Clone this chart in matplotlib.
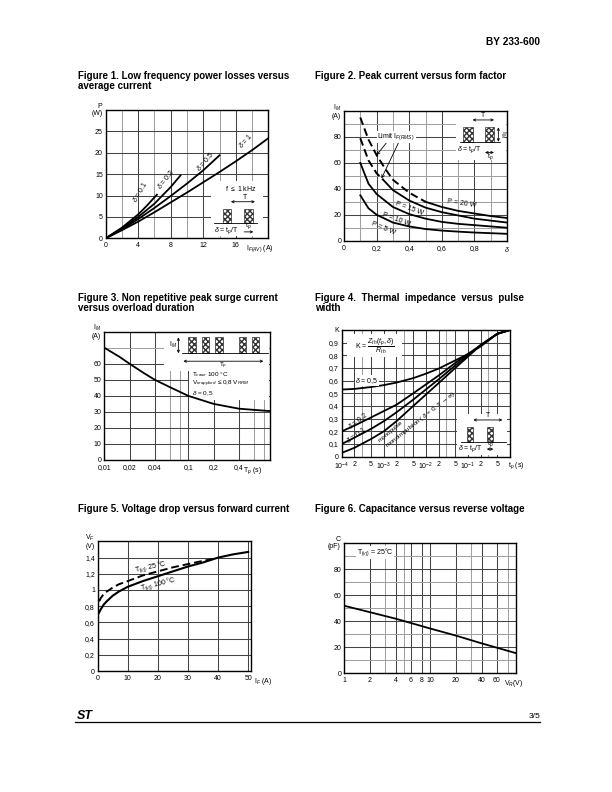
import numpy as np
import matplotlib
matplotlib.use("Agg")
import matplotlib.pyplot as plt
from matplotlib.patches import Rectangle
from matplotlib.ticker import FixedLocator, FixedFormatter, NullFormatter

plt.rcParams['font.family'] = ['Liberation Sans', 'DejaVu Sans']
plt.rcParams['mathtext.fontset'] = 'custom'
plt.rcParams['mathtext.rm'] = 'Liberation Sans'
plt.rcParams['mathtext.it'] = 'Liberation Sans:italic'
plt.rcParams['mathtext.bf'] = 'Liberation Sans:bold'

# fig 1 : power losses vs average current
i_av = [0, 2, 4, 6, 8, 10, 12, 14, 16, 18, 20]
p_d1 = [0, 1.9, 3.9, 6.1, 8.4, 10.7, 13.1, 15.5, 18.0, 20.6, 23.4]
i_d05 = [0, 2, 4, 6, 8, 10, 12, 14]
p_d05 = [0, 2.1, 4.5, 7.1, 9.9, 12.8, 15.9, 19.4]
i_d02 = [0, 2, 4, 6, 8, 9.2]
p_d02 = [0, 2.3, 5.0, 8.1, 12.0, 14.7]
i_d01 = [0, 2, 4, 5, 6.3]
p_d01 = [0, 2.5, 5.6, 7.5, 10.2]

# fig 2 : peak current vs form factor
ff = [0.1, 0.15, 0.2, 0.3, 0.4, 0.5, 0.6, 0.7, 0.8, 0.9, 1.0]
im_5w = [35, 25, 20, 14, 11, 9, 7.8, 7, 6.3, 5.8, 5.3]
im_10w = [60, 44, 36, 26, 20.5, 17, 14.5, 13, 12, 11, 10]
ff_15w = [0.24, 0.3, 0.4, 0.5, 0.6, 0.7, 0.8, 0.9, 1.0]
im_15w = [47, 39, 31, 25.5, 22, 19.5, 17, 15.5, 14]
ff_lim15 = [0.1, 0.15, 0.2, 0.24]
im_lim15 = [79, 62, 52, 47]
ff_20w = [0.5, 0.6, 0.7, 0.8, 0.9, 1.0]
im_20w = [30, 26, 23, 21, 19, 17.5]
ff_lim20 = [0.1, 0.15, 0.2, 0.25, 0.3, 0.4, 0.5]
im_lim20 = [95, 78, 66, 56, 47, 37, 30]

# fig 3 : surge current vs overload duration
tp3 = [0.01, 0.015, 0.02, 0.03, 0.04, 0.06, 0.1, 0.2, 0.4, 0.7, 0.94]
ism = [70, 64.5, 60, 54, 50, 45.5, 40, 35, 32, 31, 30.5]

# fig 4 : thermal impedance
tp4 = [1e-4, 2e-4, 5e-4, 1e-3, 2e-3, 5e-3, 1e-2, 2e-2, 5e-2, 1e-1, 2e-1, 5e-1, 1]
k_05 = [0.53, 0.535, 0.55, 0.565, 0.585, 0.62, 0.655, 0.695, 0.76, 0.81, 0.87, 0.97, 1.0]
k_02 = [0.2, 0.245, 0.31, 0.36, 0.41, 0.5, 0.57, 0.64, 0.74, 0.81, 0.88, 0.97, 1.0]
k_01 = [0.1, 0.15, 0.22, 0.28, 0.35, 0.45, 0.53, 0.61, 0.72, 0.8, 0.88, 0.97, 1.0]
k_00 = [0.03, 0.07, 0.14, 0.2, 0.28, 0.4, 0.49, 0.58, 0.7, 0.79, 0.88, 0.97, 1.0]

# fig 5 : forward voltage
if_100 = [0, 1, 2, 3, 5, 7, 10, 15, 20, 25, 30, 35, 40, 45, 50]
vf_100 = [0.69, 0.76, 0.82, 0.86, 0.93, 0.98, 1.04, 1.11, 1.17, 1.23, 1.29, 1.34, 1.40, 1.44, 1.47]
if_25 = [0.5, 1, 2, 3, 5, 7, 10, 15, 20, 25, 30, 35, 38]
vf_25 = [0.86, 0.9, 0.95, 0.98, 1.03, 1.07, 1.11, 1.18, 1.23, 1.28, 1.32, 1.36, 1.38]

# fig 6 : capacitance
vr = [1, 2, 4, 10, 20, 40, 100]
cap = [52, 47, 42, 34.5, 29, 23, 15.5]

fig = plt.figure(figsize=(6.12, 7.92), dpi=100)
fs = 5


def px_axes(l, t, r, b):
    return fig.add_axes([l / 612, 1 - b / 792, (r - l) / 612, (b - t) / 792])


def style(ax, xmaj, xmin, ymaj, ymin, xlab, ylab):
    ax.xaxis.set_major_locator(FixedLocator(xmaj))
    ax.xaxis.set_major_formatter(FixedFormatter(xlab))
    ax.xaxis.set_minor_locator(FixedLocator(xmin))
    ax.xaxis.set_minor_formatter(NullFormatter())
    ax.yaxis.set_major_locator(FixedLocator(ymaj))
    ax.yaxis.set_major_formatter(FixedFormatter(ylab))
    ax.yaxis.set_minor_locator(FixedLocator(ymin))
    ax.yaxis.set_minor_formatter(NullFormatter())
    ax.tick_params(which='both', length=0, labelsize=fs, pad=2)
    ax.tick_params(axis='x', pad=3)
    ax.grid(which='major', color='#444444', lw=0.75)
    ax.grid(which='minor', color='#a0a0a0', lw=0.75)
    ax.set_axisbelow(True)
    for s in ax.spines.values():
        s.set_linewidth(1.0)


def white(ax, x0, y0, x1, y1):
    ax.add_patch(Rectangle((x0, y0), x1 - x0, y1 - y0, transform=ax.transAxes,
                           facecolor='white', edgecolor='none', zorder=1))


def pulse(ax, x, w, y0, y1):
    ax.add_patch(Rectangle((x, y0), w, y1 - y0, transform=ax.transAxes,
                           facecolor='white', edgecolor='#333333', hatch='xxxxxx',
                           lw=0.5, zorder=3))


def arrow(ax, p0, p1, style='<->'):
    ax.annotate('', xy=p1, xytext=p0, xycoords='axes fraction',
                arrowprops=dict(arrowstyle=style, lw=0.6, color='black',
                                shrinkA=0, shrinkB=0, mutation_scale=4))


def hline(ax, x0, x1, y):
    ax.plot([x0, x1], [y, y], transform=ax.transAxes, color='black', lw=0.6, zorder=3)


def atext(ax, x, y, s, **kw):
    kw.setdefault('fontsize', fs)
    ax.text(x, y, s, transform=ax.transAxes, zorder=4, **kw)


# ---------- Figure 1
ax1 = px_axes(105.7, 110, 268.3, 238.3)
ax1.set_xlim(0, 20)
ax1.set_ylim(0, 30)
style(ax1, [0, 4, 8, 12, 16], [2, 6, 10, 14, 18], [0, 5, 10, 15, 20, 25], [],
      ['0', '4', '8', '12', '16'], ['0', '5', '10', '15', '20', '25'])
white(ax1, 0.65, 0.02, 0.97, 0.45)
ax1.plot(i_av, p_d1, color='black', lw=1.3, zorder=2)
ax1.plot(i_d05, p_d05, color='black', lw=1.3, zorder=2)
ax1.plot(i_d02, p_d02, color='black', lw=1.3, zorder=2)
ax1.plot(i_d01, p_d01, color='black', lw=1.3, zorder=2)
ax1.text(4.2, 10.8, r'$\delta$ = 0.1', fontsize=fs, rotation=60, ha='center', va='center')
ax1.text(7.4, 13.8, r'$\delta$ = 0.2', fontsize=fs, rotation=52, ha='center', va='center')
ax1.text(12.2, 18.0, r'$\delta$ = 0.5', fontsize=fs, rotation=50, ha='center', va='center')
ax1.text(17.2, 22.8, r'$\delta$ = 1', fontsize=fs, rotation=48, ha='center', va='center')
atext(ax1, 0.83, 0.39, r'f $\leq$ 1 kHz', ha='center', va='center')
pulse(ax1, 0.72, 0.05, 0.117, 0.228)
pulse(ax1, 0.852, 0.056, 0.117, 0.228)
hline(ax1, 0.668, 0.93, 0.117)
arrow(ax1, (0.77, 0.285), (0.918, 0.285))
atext(ax1, 0.857, 0.32, 'T', ha='center', va='center')
atext(ax1, 0.745, 0.06, r'$\delta$ = t$_p$/T', ha='center', va='center')
arrow(ax1, (0.852, 0.05), (0.908, 0.05), '->')
atext(ax1, 0.88, 0.10, r't$_p$', ha='center', va='center')
atext(ax1, -0.02, 1.0, 'P\n(W)', ha='right', va='center', linespacing=1.0)
atext(ax1, 0.86, -0.08, r'I$_{F(AV)}$ (A)', ha='left', va='center')

# ---------- Figure 2
ax2 = px_axes(344, 111, 507, 240.7)
ax2.set_xlim(0, 1)
ax2.set_ylim(0, 100)
style(ax2, [0, 0.2, 0.4, 0.6, 0.8, 1.0], [0.1, 0.3, 0.5, 0.7, 0.9],
      [0, 20, 40, 60, 80], [10, 30, 50, 70, 90],
      ['0', '0,2', '0,4', '0,6', '0,8', r'$\delta$'], ['0', '20', '40', '60', '80'])
white(ax2, 0.69, 0.62, 0.995, 0.995)
ax2.plot(ff, im_5w, color='black', lw=1.3, zorder=2)
ax2.plot(ff, im_10w, color='black', lw=1.3, zorder=2)
ax2.plot(ff_15w, im_15w, color='black', lw=1.3, zorder=2)
ax2.plot(ff_20w, im_20w, color='black', lw=1.3, zorder=2)
ax2.plot(ff_lim15, im_lim15, color='black', lw=1.4, ls=(0, (4, 2)), zorder=2)
ax2.plot(ff_lim20, im_lim20, color='black', lw=1.4, ls=(0, (4, 2)), zorder=2)
ax2.text(0.32, 80, r'Limit I$_{F(RMS)}$', fontsize=fs, ha='center', va='center',
         bbox=dict(facecolor='white', edgecolor='none', pad=0.5), zorder=4)
ax2.annotate('', xy=(0.2, 66), xytext=(0.27, 77),
             arrowprops=dict(arrowstyle='->', lw=0.6, shrinkA=0, shrinkB=0, mutation_scale=5))
ax2.annotate('', xy=(0.23, 48), xytext=(0.34, 77),
             arrowprops=dict(arrowstyle='->', lw=0.6, shrinkA=0, shrinkB=0, mutation_scale=5))
ax2.text(0.72, 28.5, 'P = 20 W', fontsize=fs, rotation=-8, ha='center', va='center')
ax2.text(0.4, 24.5, 'P = 15 W', fontsize=fs, rotation=-20, ha='center', va='center')
ax2.text(0.32, 16.5, 'P = 10 W', fontsize=fs, rotation=-20, ha='center', va='center')
ax2.text(0.24, 9.5, 'P = 5 W', fontsize=fs, rotation=-22, ha='center', va='center')
pulse(ax2, 0.732, 0.057, 0.763, 0.874)
pulse(ax2, 0.865, 0.055, 0.763, 0.874)
hline(ax2, 0.712, 0.957, 0.763)
arrow(ax2, (0.789, 0.931), (0.92, 0.931))
atext(ax2, 0.855, 0.965, 'T', ha='center', va='center')
arrow(ax2, (0.947, 0.763), (0.947, 0.874))
atext(ax2, 0.975, 0.82, r'I$_M$', ha='center', va='center', rotation=-90)
atext(ax2, 0.77, 0.70, r'$\delta$ = t$_p$/T', ha='center', va='center')
arrow(ax2, (0.865, 0.68), (0.92, 0.68))
atext(ax2, 0.895, 0.645, r't$_p$', ha='center', va='center')
atext(ax2, -0.02, 1.0, 'I$_M$\n(A)', ha='right', va='center', linespacing=1.0)

# ---------- Figure 3
ax3 = px_axes(104.3, 331.7, 270, 460)
ax3.set_xscale('log')
ax3.set_xlim(0.01, 0.94)
ax3.set_ylim(0, 80)
style(ax3, [0.01, 0.02, 0.04, 0.1, 0.2, 0.4], [0.06, 0.08, 0.6, 0.8],
      [0, 10, 20, 30, 40, 50, 60], [70],
      ['0,01', '0,02', '0,04', '0,1', '0,2', '0,4'],
      ['0', '10', '20', '30', '40', '50', '60'])
white(ax3, 0.362, 0.69, 0.995, 0.995)
white(ax3, 0.51, 0.47, 0.995, 0.69)
ax3.plot(tp3, ism, color='black', lw=1.3, zorder=2)
for x0 in [0.507, 0.588, 0.668, 0.81, 0.89]:
    pulse(ax3, x0, 0.046, 0.832, 0.956)
hline(ax3, 0.47, 0.99, 0.832)
arrow(ax3, (0.447, 0.832), (0.447, 0.956))
atext(ax3, 0.415, 0.9, r'I$_M$', ha='center', va='center')
arrow(ax3, (0.477, 0.77), (0.96, 0.77))
atext(ax3, 0.718, 0.73, r'T$_p$', ha='center', va='center', fontsize=4.6)
atext(ax3, 0.53, 0.665, r'T$_{case}$ 100 °C', ha='left', va='center', fontsize=4.6)
atext(ax3, 0.53, 0.59, r'V$_{reapplied}$ $\leq$0,8 V$_{RRM}$', ha='left', va='center',
      fontsize=4.6)
atext(ax3, 0.53, 0.515, r'$\delta$ = 0,5', ha='left', va='center', fontsize=4.6)
atext(ax3, -0.02, 1.0, 'I$_M$\n(A)', ha='right', va='center', linespacing=1.0)
atext(ax3, 0.84, -0.08, r'T$_p$ (s)', ha='left', va='center')

# ---------- Figure 4
ax4 = px_axes(341.7, 330, 510, 456.7)
ax4.set_xscale('log')
ax4.set_xlim(1e-4, 1)
ax4.set_ylim(0, 1.0)
xmaj4 = [1e-4, 2e-4, 5e-4, 1e-3, 2e-3, 5e-3, 1e-2, 2e-2, 5e-2, 1e-1, 2e-1, 5e-1]
xmin4 = [3e-4, 3e-3, 3e-2, 3e-1]
style(ax4, xmaj4, xmin4, [0.0, 0.1, 0.2, 0.3, 0.4, 0.5, 0.6, 0.7, 0.8, 0.9, 1.0], [],
      [r'10$^{-4}$', '2', '5', r'10$^{-3}$', '2', '5', r'10$^{-2}$', '2', '5',
       r'10$^{-1}$', '2', '5'],
      ['0', '0,1', '0,2', '0,3', '0,4', '0,5', '0,6', '0,7', '0,8', '0,9', 'K'])
white(ax4, 0.03, 0.79, 0.356, 0.965)
white(ax4, 0.683, 0.013, 0.98, 0.34)
ax4.plot(tp4, k_05, color='black', lw=1.3, zorder=2)
ax4.plot(tp4, k_02, color='black', lw=1.3, zorder=2)
ax4.plot(tp4, k_01, color='black', lw=1.3, zorder=2)
ax4.plot(tp4, k_00, color='black', lw=1.3, zorder=2)
atext(ax4, 0.2, 0.875, r'K = $\dfrac{Z_{th}(t_p, \delta)}{R_{th}}$', ha='center', va='center')
atext(ax4, 0.15, 0.6, r'$\delta$ = 0,5', ha='center', va='center',
      bbox=dict(facecolor='white', edgecolor='none', pad=0.3))
atext(ax4, 0.10, 0.285, r'$\delta$ = 0,2', ha='center', va='center', rotation=38)
atext(ax4, 0.09, 0.17, r'$\delta$ = 0,1', ha='center', va='center', rotation=36)
atext(ax4, 0.29, 0.2, 'monopulse', ha='center', va='center', rotation=40, fontsize=4.5)
atext(ax4, 0.47, 0.29, r'monoimpulsion ( $\delta$ = 0, T $\rightarrow\infty$)',
      ha='center', va='center', rotation=38, fontsize=4.5)
pulse(ax4, 0.743, 0.039, 0.118, 0.237)
pulse(ax4, 0.862, 0.039, 0.118, 0.237)
hline(ax4, 0.71, 0.975, 0.118)
arrow(ax4, (0.782, 0.29), (0.955, 0.29))
atext(ax4, 0.87, 0.325, 'T', ha='center', va='center')
atext(ax4, 0.765, 0.06, r'$\delta$ = t$_p$/T', ha='center', va='center')
arrow(ax4, (0.862, 0.06), (0.901, 0.06))
atext(ax4, 0.88, 0.1, r't$_p$', ha='center', va='center')
atext(ax4, 0.99, -0.07, r't$_p$ (s)', ha='left', va='center')

# ---------- Figure 5
ax5 = px_axes(97.7, 541.4, 251.2, 671)
ax5.set_xlim(0, 51)
ax5.set_ylim(0, 1.6)
style(ax5, [0, 10, 20, 30, 40, 50], [], [0, 0.2, 0.4, 0.6, 0.8, 1.0, 1.2, 1.4], [],
      ['0', '10', '20', '30', '40', '50'],
      ['0', '0,2', '0,4', '0,6', '0,8', '1', '1,2', '1,4'])
ax5.plot(if_100, vf_100, color='black', lw=1.5, zorder=2)
ax5.plot(if_25, vf_25, color='black', lw=1.4, ls=(0, (4, 2)), zorder=2)
ax5.text(17.5, 1.29, r'T$_{(vj)}$ 25 °C', fontsize=fs, rotation=12, ha='center', va='center')
ax5.text(20, 1.08, r'T$_{(vj)}$ 100 °C', fontsize=fs, rotation=14, ha='center', va='center')
atext(ax5, -0.02, 1.0, 'V$_F$\n(V)', ha='right', va='center', linespacing=1.0)
atext(ax5, 1.02, -0.08, r'I$_F$ (A)', ha='left', va='center')

# ---------- Figure 6
ax6 = px_axes(344, 543.3, 516, 673.3)
ax6.set_xscale('log')
ax6.set_xlim(1, 100)
ax6.set_ylim(0, 100)
style(ax6, [1, 2, 4, 6, 8, 10, 20, 40, 60], [3, 5, 30, 80],
      [0, 20, 40, 60, 80], [10, 30, 50, 70, 90],
      ['1', '2', '4', '6', '8', '10', '20', '40', '60'], ['0', '20', '40', '60', '80'])
ax6.plot(vr, cap, color='black', lw=1.3, zorder=2)
ax6.text(2.3, 93, r'T$_{(vj)}$ = 25°C', fontsize=fs, ha='center', va='center',
         bbox=dict(facecolor='white', edgecolor='none', pad=0.5), zorder=4)
atext(ax6, -0.02, 1.0, 'C\n(pF)', ha='right', va='center', linespacing=1.0)
atext(ax6, 0.93, -0.08, r'V$_R$(V)', ha='left', va='center')

# ---------- page texts
tfs = 7.0


def ftext(x, y, s, **kw):
    fig.text(x / 612, 1 - y / 792, s, **kw)


ftext(540, 42, 'BY 233-600', fontsize=7.3, fontweight='bold', ha='right', va='center')
ftext(78, 71, 'Figure 1. Low frequency power losses versus\naverage current',
      fontsize=tfs, fontweight='bold', va='top', linespacing=0.95)
ftext(315, 71, 'Figure 2. Peak current versus form factor',
      fontsize=tfs, fontweight='bold', va='top')
ftext(78, 293, 'Figure 3. Non repetitive peak surge current\nversus overload duration',
      fontsize=tfs, fontweight='bold', va='top', linespacing=0.95)
ftext(315, 293, 'Figure 4.  Thermal  impedance  versus  pulse\nwidth',
      fontsize=tfs, fontweight='bold', va='top', linespacing=0.95)
ftext(78, 504, 'Figure 5. Voltage drop versus forward current',
      fontsize=tfs, fontweight='bold', va='top')
ftext(315, 504, 'Figure 6. Capacitance versus reverse voltage',
      fontsize=tfs, fontweight='bold', va='top')
ftext(77, 716, 'ST', fontsize=9, fontweight='heavy', fontstyle='italic', ha='left', va='center')
ftext(540, 716, '3/5', fontsize=6, ha='right', va='center')
fig.add_artist(plt.Line2D([75 / 612, 540 / 612], [1 - 722 / 792, 1 - 722 / 792],
                          color='black', lw=0.9))

fig.savefig('out.png', dpi=100)
